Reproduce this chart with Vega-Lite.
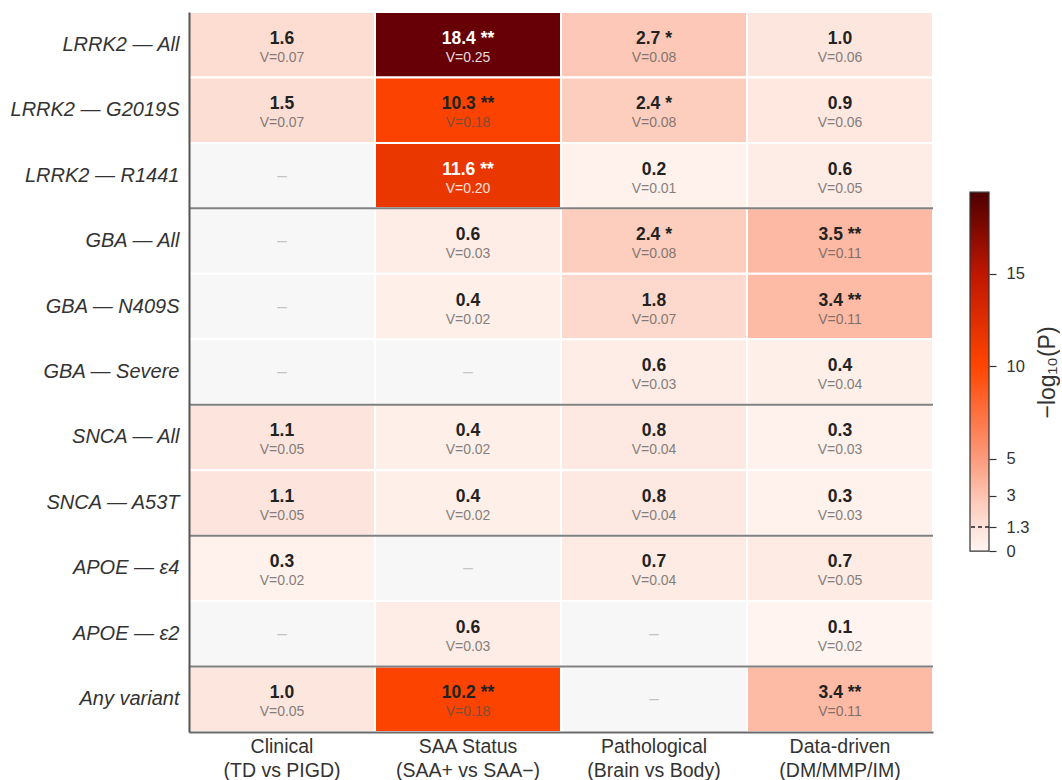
{
  "$schema": "https://vega.github.io/schema/vega-lite/v6.json",
  "background": "white",
  "padding": {"left": 10, "top": 11, "right": 0, "bottom": 0},
  "config": {
    "view": {"stroke": null},
    "font": "Liberation Sans",
    "concat": {"spacing": 35}
  },
  "datasets": {
    "cells": [
      {"variant": "LRRK2 — All", "test": "Clinical (TD vs PIGD)", "p": 1.6, "sig": "", "v": 0.07},
      {"variant": "LRRK2 — All", "test": "SAA Status (SAA+ vs SAA−)", "p": 18.4, "sig": "**", "v": 0.25},
      {"variant": "LRRK2 — All", "test": "Pathological (Brain vs Body)", "p": 2.7, "sig": "*", "v": 0.08},
      {"variant": "LRRK2 — All", "test": "Data-driven (DM/MMP/IM)", "p": 1.0, "sig": "", "v": 0.06},
      {"variant": "LRRK2 — G2019S", "test": "Clinical (TD vs PIGD)", "p": 1.5, "sig": "", "v": 0.07},
      {"variant": "LRRK2 — G2019S", "test": "SAA Status (SAA+ vs SAA−)", "p": 10.3, "sig": "**", "v": 0.18},
      {"variant": "LRRK2 — G2019S", "test": "Pathological (Brain vs Body)", "p": 2.4, "sig": "*", "v": 0.08},
      {"variant": "LRRK2 — G2019S", "test": "Data-driven (DM/MMP/IM)", "p": 0.9, "sig": "", "v": 0.06},
      {"variant": "LRRK2 — R1441", "test": "Clinical (TD vs PIGD)", "p": null, "sig": "", "v": null},
      {"variant": "LRRK2 — R1441", "test": "SAA Status (SAA+ vs SAA−)", "p": 11.6, "sig": "**", "v": 0.20},
      {"variant": "LRRK2 — R1441", "test": "Pathological (Brain vs Body)", "p": 0.2, "sig": "", "v": 0.01},
      {"variant": "LRRK2 — R1441", "test": "Data-driven (DM/MMP/IM)", "p": 0.6, "sig": "", "v": 0.05},
      {"variant": "GBA — All", "test": "Clinical (TD vs PIGD)", "p": null, "sig": "", "v": null},
      {"variant": "GBA — All", "test": "SAA Status (SAA+ vs SAA−)", "p": 0.6, "sig": "", "v": 0.03},
      {"variant": "GBA — All", "test": "Pathological (Brain vs Body)", "p": 2.4, "sig": "*", "v": 0.08},
      {"variant": "GBA — All", "test": "Data-driven (DM/MMP/IM)", "p": 3.5, "sig": "**", "v": 0.11},
      {"variant": "GBA — N409S", "test": "Clinical (TD vs PIGD)", "p": null, "sig": "", "v": null},
      {"variant": "GBA — N409S", "test": "SAA Status (SAA+ vs SAA−)", "p": 0.4, "sig": "", "v": 0.02},
      {"variant": "GBA — N409S", "test": "Pathological (Brain vs Body)", "p": 1.8, "sig": "", "v": 0.07},
      {"variant": "GBA — N409S", "test": "Data-driven (DM/MMP/IM)", "p": 3.4, "sig": "**", "v": 0.11},
      {"variant": "GBA — Severe", "test": "Clinical (TD vs PIGD)", "p": null, "sig": "", "v": null},
      {"variant": "GBA — Severe", "test": "SAA Status (SAA+ vs SAA−)", "p": null, "sig": "", "v": null},
      {"variant": "GBA — Severe", "test": "Pathological (Brain vs Body)", "p": 0.6, "sig": "", "v": 0.03},
      {"variant": "GBA — Severe", "test": "Data-driven (DM/MMP/IM)", "p": 0.4, "sig": "", "v": 0.04},
      {"variant": "SNCA — All", "test": "Clinical (TD vs PIGD)", "p": 1.1, "sig": "", "v": 0.05},
      {"variant": "SNCA — All", "test": "SAA Status (SAA+ vs SAA−)", "p": 0.4, "sig": "", "v": 0.02},
      {"variant": "SNCA — All", "test": "Pathological (Brain vs Body)", "p": 0.8, "sig": "", "v": 0.04},
      {"variant": "SNCA — All", "test": "Data-driven (DM/MMP/IM)", "p": 0.3, "sig": "", "v": 0.03},
      {"variant": "SNCA — A53T", "test": "Clinical (TD vs PIGD)", "p": 1.1, "sig": "", "v": 0.05},
      {"variant": "SNCA — A53T", "test": "SAA Status (SAA+ vs SAA−)", "p": 0.4, "sig": "", "v": 0.02},
      {"variant": "SNCA — A53T", "test": "Pathological (Brain vs Body)", "p": 0.8, "sig": "", "v": 0.04},
      {"variant": "SNCA — A53T", "test": "Data-driven (DM/MMP/IM)", "p": 0.3, "sig": "", "v": 0.03},
      {"variant": "APOE — ε4", "test": "Clinical (TD vs PIGD)", "p": 0.3, "sig": "", "v": 0.02},
      {"variant": "APOE — ε4", "test": "SAA Status (SAA+ vs SAA−)", "p": null, "sig": "", "v": null},
      {"variant": "APOE — ε4", "test": "Pathological (Brain vs Body)", "p": 0.7, "sig": "", "v": 0.04},
      {"variant": "APOE — ε4", "test": "Data-driven (DM/MMP/IM)", "p": 0.7, "sig": "", "v": 0.05},
      {"variant": "APOE — ε2", "test": "Clinical (TD vs PIGD)", "p": null, "sig": "", "v": null},
      {"variant": "APOE — ε2", "test": "SAA Status (SAA+ vs SAA−)", "p": 0.6, "sig": "", "v": 0.03},
      {"variant": "APOE — ε2", "test": "Pathological (Brain vs Body)", "p": null, "sig": "", "v": null},
      {"variant": "APOE — ε2", "test": "Data-driven (DM/MMP/IM)", "p": 0.1, "sig": "", "v": 0.02},
      {"variant": "Any variant", "test": "Clinical (TD vs PIGD)", "p": 1.0, "sig": "", "v": 0.05},
      {"variant": "Any variant", "test": "SAA Status (SAA+ vs SAA−)", "p": 10.2, "sig": "**", "v": 0.18},
      {"variant": "Any variant", "test": "Pathological (Brain vs Body)", "p": null, "sig": "", "v": null},
      {"variant": "Any variant", "test": "Data-driven (DM/MMP/IM)", "p": 3.4, "sig": "**", "v": 0.11}
    ],
    "groupStarts": [
      {"variant": "GBA — All"},
      {"variant": "SNCA — All"},
      {"variant": "APOE — ε4"},
      {"variant": "Any variant"}
    ],
    "colorbar": [{"lo": 0, "hi": 19.4}],
    "threshold": [{"t": 1.3}]
  },
  "hconcat": [
    {
      "width": 744,
      "height": 720,
      "layer": [
        {
          "data": {"name": "cells"},
          "mark": {"type": "rect", "fill": "#f7f7f7", "stroke": "white", "strokeWidth": 2},
          "encoding": {
            "x": {
              "field": "test", "type": "nominal",
              "scale": {
                "domain": ["Clinical (TD vs PIGD)", "SAA Status (SAA+ vs SAA−)", "Pathological (Brain vs Body)", "Data-driven (DM/MMP/IM)"],
                "paddingInner": 0, "paddingOuter": 0
              },
              "axis": {
                "orient": "bottom", "title": null, "labelAngle": 0, "ticks": false,
                "domain": true, "domainColor": "#6a6a6a", "domainWidth": 2,
                "labelFontSize": 19.5, "labelColor": "#333333", "labelPadding": 5,
                "labelLineHeight": 24, "labelLimit": 0, "zindex": 1,
                "labelExpr": "[slice(datum.label, 0, indexof(datum.label, ' (')), slice(datum.label, indexof(datum.label, ' (') + 1)]"
              }
            },
            "y": {
              "field": "variant", "type": "nominal",
              "scale": {
                "domain": ["LRRK2 — All", "LRRK2 — G2019S", "LRRK2 — R1441", "GBA — All", "GBA — N409S", "GBA — Severe", "SNCA — All", "SNCA — A53T", "APOE — ε4", "APOE — ε2", "Any variant"],
                "paddingInner": 0, "paddingOuter": 0
              },
              "axis": {
                "title": null, "ticks": false, "domain": true, "domainColor": "#555555", "domainWidth": 2,
                "labelFontSize": 20, "labelFontStyle": "italic", "labelColor": "#333333",
                "labelPadding": 10, "labelLimit": 0, "zindex": 1
              }
            }
          }
        },
        {
          "data": {"name": "cells"},
          "transform": [{"filter": "isValid(datum.p)"}],
          "mark": {"type": "rect", "stroke": "white", "strokeWidth": 2},
          "encoding": {
            "x": {"field": "test", "type": "nominal"},
            "y": {"field": "variant", "type": "nominal"},
            "fill": {
              "field": "p", "type": "quantitative",
              "scale": {
                "domain": [0, 1.3, 3, 5, 10, 15, 19.4],
                "range": ["#fff5f1", "#fde2d9", "#fdc3b0", "#fc9a7c", "#ff4500", "#bf1600", "#4d0000"]
              },
              "legend": null
            }
          }
        },
        {
          "data": {"name": "cells"},
          "transform": [
            {"filter": "isValid(datum.p)"},
            {"calculate": "format(datum.p, '.1f') + (datum.sig ? ' ' + datum.sig : '')", "as": "label"}
          ],
          "mark": {"type": "text", "fontWeight": "bold", "fontSize": 17.5, "baseline": "middle", "dy": -6},
          "encoding": {
            "x": {"field": "test", "type": "nominal"},
            "y": {"field": "variant", "type": "nominal"},
            "text": {"field": "label", "type": "nominal"},
            "color": {"condition": {"test": "datum.p > 11", "value": "#ffffff"}, "value": "#222222"}
          }
        },
        {
          "data": {"name": "cells"},
          "transform": [
            {"filter": "isValid(datum.p)"},
            {"calculate": "'V=' + format(datum.v, '.2f')", "as": "vlabel"}
          ],
          "mark": {"type": "text", "fontSize": 14, "baseline": "middle", "dy": 13},
          "encoding": {
            "x": {"field": "test", "type": "nominal"},
            "y": {"field": "variant", "type": "nominal"},
            "text": {"field": "vlabel", "type": "nominal"},
            "color": {"condition": {"test": "datum.p > 11", "value": "#ffffff"}, "value": "#505050"},
            "opacity": {"condition": {"test": "datum.p > 11", "value": 0.85}, "value": 0.7}
          }
        },
        {
          "data": {"name": "cells"},
          "transform": [{"filter": "!isValid(datum.p)"}],
          "mark": {"type": "text", "text": "–", "fontSize": 17, "baseline": "middle", "color": "#c4c4c4"},
          "encoding": {
            "x": {"field": "test", "type": "nominal"},
            "y": {"field": "variant", "type": "nominal"}
          }
        },
        {
          "data": {"name": "groupStarts"},
          "mark": {"type": "rule", "color": "#808080", "strokeWidth": 2},
          "encoding": {
            "y": {"field": "variant", "type": "nominal", "bandPosition": 0}
          }
        }
      ]
    },
    {
      "width": 19,
      "height": 720,
      "layer": [
        {
          "data": {"name": "colorbar"},
          "mark": {
            "type": "rect",
            "stroke": "#333333",
            "strokeWidth": 1.2,
            "fill": {
              "gradient": "linear", "x1": 0, "y1": 1, "x2": 0, "y2": 0,
              "stops": [
                {"offset": 0, "color": "#fff5f1"},
                {"offset": 0.067, "color": "#fde2d9"},
                {"offset": 0.155, "color": "#fdc3b0"},
                {"offset": 0.258, "color": "#fc9a7c"},
                {"offset": 0.515, "color": "#ff4500"},
                {"offset": 0.773, "color": "#bf1600"},
                {"offset": 1, "color": "#4d0000"}
              ]
            }
          },
          "encoding": {
            "y": {
              "field": "lo", "type": "quantitative",
              "scale": {"domain": [-9.78, 29.14], "nice": false, "zero": false},
              "axis": {
                "orient": "right", "values": [0, 1.3, 3, 5, 10, 15], "format": "~g",
                "domain": false, "grid": false, "ticks": true, "tickColor": "#333333",
                "tickSize": 7, "tickWidth": 1.2, "labelFontSize": 16.5, "labelColor": "#333333",
                "labelPadding": 10, "title": "−log₁₀(P)", "titleFontSize": 23,
                "titleFontWeight": "normal", "titleColor": "#333333", "titleAngle": 270,
                "titlePadding": 31
              }
            },
            "y2": {"field": "hi"}
          }
        },
        {
          "data": {"name": "threshold"},
          "mark": {"type": "rule", "color": "#222222", "strokeWidth": 1.5, "strokeDash": [4, 3]},
          "encoding": {
            "y": {"field": "t", "type": "quantitative"}
          }
        }
      ]
    }
  ]
}
